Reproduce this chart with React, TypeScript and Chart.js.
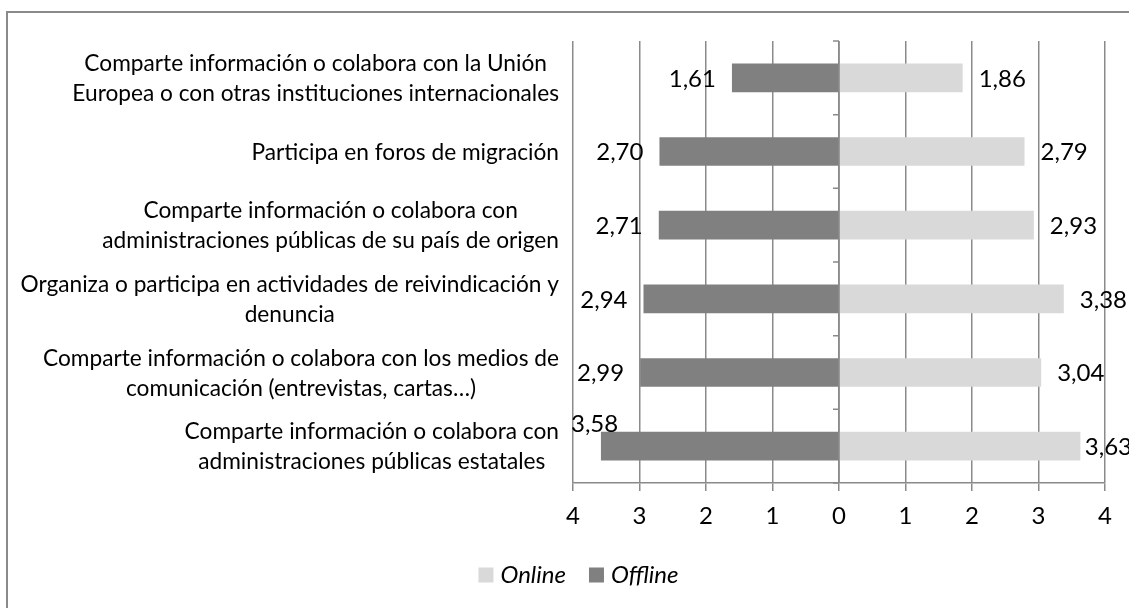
import React, { useEffect, useRef } from "react";
import { Chart, registerables } from "chart.js";

Chart.register(...registerables);

const categories: string[][] = [
  ["Comparte información o colabora con la Unión", "Europea o con otras instituciones internacionales"],
  ["Participa en foros de migración"],
  ["Comparte información o colabora con", "administraciones públicas de su país de origen"],
  ["Organiza o participa en actividades de reivindicación y", "denuncia"],
  ["Comparte información o colabora con los medios de", "comunicación (entrevistas, cartas…)"],
  ["Comparte información o colabora con", "administraciones públicas estatales"],
];
const seriesNames = ["Online", "Offline"];
const onlineValues = [1.86, 2.79, 2.93, 3.38, 3.04, 3.63];
const offlineValues = [1.61, 2.7, 2.71, 2.94, 2.99, 3.58];
const axisMin = -4;
const axisMax = 4;
const axisStep = 1;

const ONLINE_COLOR = "#d9d9d9";
const OFFLINE_COLOR = "#808080";
const GRID_COLOR = "#8a8a8a";
const FONT = "Lato";

const fmt = (v: number) => v.toFixed(2).replace(".", ",");

const customPlugin = {
  id: "customDraw",
  afterDatasetsDraw(chart: any) {
    const ctx = chart.ctx as CanvasRenderingContext2D;
    const area = chart.chartArea;
    const xs = chart.scales.x;
    ctx.save();
    // center axis line + category tick marks
    const x0 = Math.round(xs.getPixelForValue(0));
    ctx.strokeStyle = GRID_COLOR;
    ctx.lineWidth = 1.5;
    ctx.beginPath();
    ctx.moveTo(x0, area.top);
    ctx.lineTo(x0, area.bottom);
    const n = categories.length;
    for (let i = 0; i <= n; i++) {
      const y = area.top + (i * area.height) / n;
      ctx.moveTo(x0 - 6, y);
      ctx.lineTo(x0, y);
    }
    ctx.stroke();

    // data labels
    ctx.font = `24px ${FONT}`;
    ctx.fillStyle = "#000";
    ctx.textBaseline = "middle";
    ctx.textAlign = "left";
    chart.data.datasets.forEach((ds: any, di: number) => {
      const meta = chart.getDatasetMeta(di);
      meta.data.forEach((bar: any, i: number) => {
        const v = ds.data[i] as number;
        const text = fmt(Math.abs(v));
        const w = ctx.measureText(text).width;
        let x: number;
        let y = bar.y + 1;
        if (v >= 0) {
          x = bar.x + 16;
          if (x + w > area.right + 27) x = area.right + 27 - w;
        } else {
          x = bar.x - 16 - w;
          if (x < area.left - 2) {
            x = area.left - 2;
            y -= 23;
          }
        }
        ctx.fillText(text, x, y);
      });
    });

    // category labels
    ctx.font = `22.7px ${FONT}`;
    ctx.textAlign = "center";
    const lineH = 30;
    const rightEdge = area.left - 14;
    categories.forEach((lines, i) => {
      const cy = area.top + ((i + 0.5) * area.height) / n + 1;
      const maxW = Math.max(...lines.map((l) => ctx.measureText(l).width));
      const cx = rightEdge - maxW / 2;
      lines.forEach((l, j) => {
        const y = cy + (j - (lines.length - 1) / 2) * lineH;
        ctx.fillText(l, cx, y);
      });
    });

    // legend
    ctx.font = `italic 24px ${FONT}`;
    ctx.textAlign = "left";
    const colors = [ONLINE_COLOR, OFFLINE_COLOR];
    const box = 15;
    const gapBoxText = 7;
    const gapItems = 23;
    const widths = seriesNames.map((s) => box + gapBoxText + ctx.measureText(s).width);
    const total = widths.reduce((a, b) => a + b, 0) + gapItems * (widths.length - 1);
    const frameLeft = 7;
    const frameRight = 1150;
    let lx = (frameLeft + frameRight) / 2 - total / 2;
    const ly = 575;
    seriesNames.forEach((s, i) => {
      ctx.fillStyle = colors[i];
      ctx.fillRect(lx, ly - box / 2, box, box);
      ctx.fillStyle = "#000";
      ctx.fillText(s, lx + box + gapBoxText, ly);
      lx += widths[i] + gapItems;
    });

    // outer frame
    ctx.strokeStyle = GRID_COLOR;
    ctx.lineWidth = 2;
    ctx.strokeRect(7, 12, frameRight - frameLeft, 700);
    ctx.restore();
  },
};

export default function App() {
  const ref = useRef<HTMLCanvasElement>(null);
  useEffect(() => {
    document.body.style.margin = "0";
    const chart = new Chart(ref.current as HTMLCanvasElement, {
      type: "bar",
      data: {
        labels: categories,
        datasets: [
          {
            label: seriesNames[0],
            data: onlineValues,
            backgroundColor: ONLINE_COLOR,
            barPercentage: 0.39,
            categoryPercentage: 1,
          },
          {
            label: seriesNames[1],
            data: offlineValues.map((v) => -v),
            backgroundColor: OFFLINE_COLOR,
            barPercentage: 0.39,
            categoryPercentage: 1,
          },
        ],
      },
      options: {
        animation: false,
        responsive: false,
        devicePixelRatio: 1,
        indexAxis: "y",
        layout: { padding: { left: 573, right: 24, top: 41, bottom: 65 } },
        plugins: { legend: { display: false }, tooltip: { enabled: false } },
        scales: {
          x: {
            stacked: true,
            min: axisMin,
            max: axisMax,
            ticks: {
              stepSize: axisStep,
              callback: (v: any) => String(Math.abs(Number(v))),
              font: { family: FONT, size: 24 },
              color: "#000",
              padding: 11,
              maxRotation: 0,
            },
            grid: { color: GRID_COLOR, lineWidth: 1.5, tickLength: 8, drawTicks: true },
            border: { color: GRID_COLOR, width: 1.5 },
            afterFit: (s: any) => {
              s.height = 60;
            },
          },
          y: { stacked: true, display: false },
        },
      },
      plugins: [customPlugin],
    } as any);
    return () => chart.destroy();
  }, []);
  return (
    <div style={{ width: 1129, height: 608, position: "relative" }}>
      <canvas ref={ref} width={1129} height={608} style={{ display: "block" }} />
    </div>
  );
}
